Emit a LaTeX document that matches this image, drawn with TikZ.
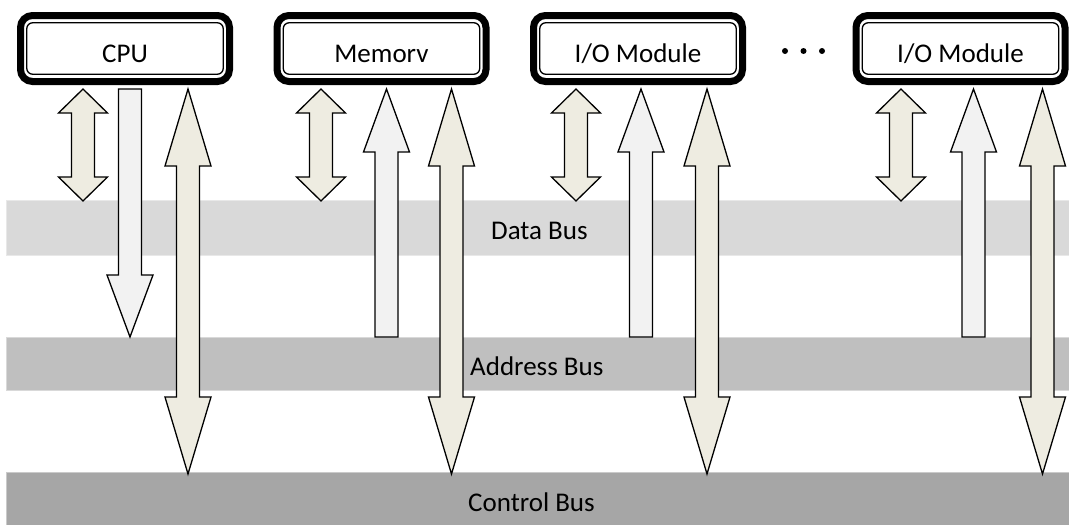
\documentclass[tikz,border=0pt]{standalone}
\usepackage{fontspec}
\setmainfont{Carlito}
\usetikzlibrary{fit,calc}

\definecolor{beige}{HTML}{EEECE1}
\definecolor{paleg}{HTML}{F2F2F2}
\definecolor{busA}{HTML}{D9D9D9}
\definecolor{busB}{HTML}{BFBFBF}
\definecolor{busC}{HTML}{A6A6A6}

\tikzset{
  unit/.style={draw, line width=1.3pt, rounded corners=6pt,
    minimum width=196.5pt, minimum height=51.5pt, inner sep=0pt, outer sep=0pt,
    text height=27pt, text depth=0pt, font=\fontsize{27}{32}\selectfont},
  unitframe/.style={draw, line width=7pt, rounded corners=12pt,
    inner xsep=6.25pt, inner ysep=7.25pt},
  bus/.style={anchor=north west, minimum width=1063pt, inner sep=0pt, outer sep=0pt,
    draw=#1!60!white, fill=#1, line width=0.8pt},
  busname/.style={anchor=base west, inner sep=0pt, font=\fontsize{27}{32}\selectfont},
  blk/.style={draw, line width=1.3pt, line join=miter},
}

% #1 top tip, #2 bottom tip, #3 shaft half width, #4 head half width, #5 head length
\newcommand\twoheaded[5]{%
  \draw[blk, fill=beige] let \p1=#1, \p2=#2 in
    (\x1,\y1) -- (\x1+#4pt,\y1-#5pt) -- (\x1+#3pt,\y1-#5pt) -- (\x1+#3pt,\y2+#5pt)
    -- (\x1+#4pt,\y2+#5pt) -- (\x1,\y2) -- (\x1-#4pt,\y2+#5pt) -- (\x1-#3pt,\y2+#5pt)
    -- (\x1-#3pt,\y1-#5pt) -- (\x1-#4pt,\y1-#5pt) -- cycle;}
% tip at the top, flat end at the bottom
\newcommand\upward[5]{%
  \draw[blk, fill=paleg] let \p1=#1, \p2=#2 in
    (\x1,\y1) -- (\x1+#4pt,\y1-#5pt) -- (\x1+#3pt,\y1-#5pt) -- (\x1+#3pt,\y2)
    -- (\x1-#3pt,\y2) -- (\x1-#3pt,\y1-#5pt) -- (\x1-#4pt,\y1-#5pt) -- cycle;}
% flat end at the top, tip at the bottom
\newcommand\downward[5]{%
  \draw[blk, fill=paleg] let \p1=#1, \p2=#2 in
    (\x1+#3pt,\y1) -- (\x1+#3pt,\y2+#5pt) -- (\x1+#4pt,\y2+#5pt) -- (\x1,\y2)
    -- (\x1-#4pt,\y2+#5pt) -- (\x1-#3pt,\y2+#5pt) -- (\x1-#3pt,\y1) -- cycle;}

% data line: box <-> data bus
\newcommand\datalink[2]{\twoheaded{($(#1,0 |- #2.south)+(0,4)$)}{($(#1,0 |- databus.north)+(0,1)$)}{11.5}{24.5}{24}}
% control line: box <-> control bus
\newcommand\ctrllink[2]{\twoheaded{($(#1,0 |- #2.south)+(0,4)$)}{($(#1,0 |- ctrlbus.north)+(0,2)$)}{11.5}{23}{77}}
% address line: address bus -> box
\newcommand\addrlink[2]{\upward{($(#1,0 |- #2.south)+(0,4)$)}{(#1,0 |- addrbus.north)}{11.5}{23}{63}}

\begin{document}
\begin{tikzpicture}[x=1pt, y=-1pt]
  \useasboundingbox (0,0) rectangle (1069,525);

  % buses
  \node[bus=busA, minimum height=55pt] (databus) at (6,200) {};
  \node[bus=busB, minimum height=53pt] (addrbus) at (6,337) {};
  \node[bus=busC, minimum height=53pt] (ctrlbus) at (6,472) {};
  \node[busname] (datalbl) at (491,239) {Data Bus};
  \node[busname] (addrlbl) at (470,375) {Address Bus};
  \node[busname] (ctrllbl) at (468,511) {Control Bus};

  % modules
  \node[unit] (cpu) at (125,48.5) {CPU};
  \node[unit] (mem) at (381.5,48.5) {Memorv};
  \node[unit] (io1) at (638,48.5) {I/O Module};
  \node[unit] (io2) at (960.5,48.5) {I/O Module};
  \foreach \u in {cpu,mem,io1,io2}
    \node[unitframe, fit=(\u)] (\u frame) {};

  % ellipsis between the I/O modules
  \foreach \dx in {785,803.5,822}
    \fill (\dx,51) circle (3pt);

  % CPU
  \datalink{83}{cpuframe}
  \downward{($(130,0 |- cpuframe.south)+(0,4)$)}{(130,0 |- addrbus.north)}{11.5}{23}{62}
  \ctrllink{188}{cpuframe}
  % Memory
  \datalink{321}{memframe}
  \addrlink{386.5}{memframe}
  \ctrllink{451.5}{memframe}
  % I/O modules
  \datalink{576}{io1frame}
  \addrlink{641}{io1frame}
  \ctrllink{707}{io1frame}
  \datalink{901}{io2frame}
  \addrlink{973.5}{io2frame}
  \ctrllink{1042.5}{io2frame}
\end{tikzpicture}
\end{document}
